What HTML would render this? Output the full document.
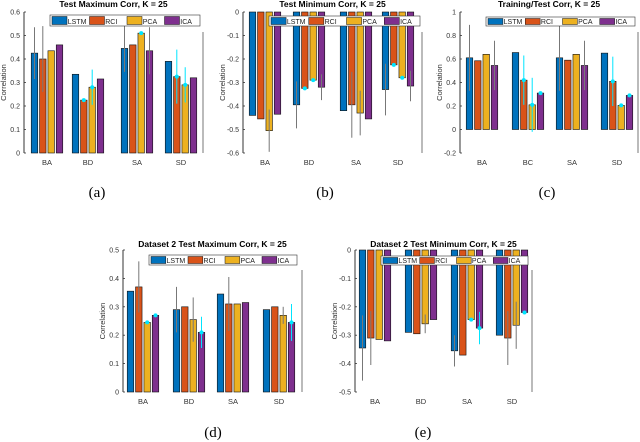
<!DOCTYPE html>
<html><head><meta charset="utf-8"><style>
body{margin:0;background:#fff;width:640px;height:442px;overflow:hidden;font-family:"Liberation Sans",sans-serif}
svg{position:absolute;left:0;top:0}
</style></head><body>
<svg id="fig" width="640" height="442" viewBox="0 0 640 442"></svg>
<script>
const categories = ["BA","BD","SA","SD"];
const categoriesC = ["BA","BC","SA","SD"];
const seriesNames = ["LSTM","RCI","PCA","ICA"];
// panel a  (errors indexed [category][series])
const aLSTM=[0.425,0.335,0.445,0.39], aRCI=[0.40,0.225,0.46,0.325], aPCA=[0.435,0.28,0.51,0.29], aICA=[0.46,0.315,0.435,0.32];
const aErr=[[0.11,0.14,0,0],[0,0.005,0.075,0],[0.1,0,0.005,0.1],[0,0.115,0.075,0]];
const aCyan=[[0,0,0,0],[0,1,1,0],[0,0,1,0],[0,1,1,0]];
const aTicks=[0,0.1,0.2,0.3,0.4,0.5,0.6];
// panel b
const bLSTM=[-0.44,-0.395,-0.42,-0.33], bRCI=[-0.455,-0.325,-0.395,-0.225], bPCA=[-0.505,-0.29,-0.43,-0.28], bICA=[-0.435,-0.32,-0.455,-0.315];
const bErr=[[0,0,0.09,0],[0.1,0.005,0.005,0.055],[0,0.14,0.095,0],[0.11,0.005,0.005,0.065]];
const bCyan=[[0,0,0,0],[0,1,1,0],[0,0,0,0],[0,1,1,0]];
const bTicks=[0,-0.1,-0.2,-0.3,-0.4,-0.5,-0.6];
// panel c
const cLSTM=[0.61,0.655,0.61,0.65], cRCI=[0.585,0.42,0.59,0.41], cPCA=[0.64,0.21,0.64,0.205], cICA=[0.545,0.31,0.545,0.29];
const cErr=[[0.28,0,0,0.21],[0,0.21,0.23,0.01],[0.28,0,0,0.21],[0,0.21,0.01,0.01]];
const cCyan=[[0,0,0,0],[0,1,1,1],[0,0,0,0],[0,1,1,1]];
const cTicks=[-0.2,0,0.2,0.4,0.6,0.8,1];
// panel d
const dLSTM=[0.355,0.29,0.345,0.29], dRCI=[0.37,0.30,0.31,0.30], dPCA=[0.245,0.255,0.31,0.27], dICA=[0.27,0.21,0.315,0.245];
const dErr=[[0,0.09,0.005,0.005],[0.08,0,0.078,0.055],[0,0.095,0,0],[0,0,0.03,0.065]];
const dCyan=[[0,0,1,1],[0,0,0,1],[0,0,0,0],[0,0,0,1]];
const dTicks=[0,0.1,0.2,0.3,0.4,0.5];
// panel e
const eLSTM=[-0.345,-0.29,-0.355,-0.30], eRCI=[-0.31,-0.295,-0.37,-0.31], ePCA=[-0.315,-0.26,-0.245,-0.265], eICA=[-0.32,-0.245,-0.275,-0.22];
const eErr=[[0.115,0.095,0,0],[0,0,0.033,0],[0.055,0,0.005,0.057],[0,0.095,0.083,0.005]];
const eCyan=[[0,0,0,0],[0,0,0,0],[0,0,1,1],[0,0,0,1]];
const eTicks=[0,-0.1,-0.2,-0.3,-0.4,-0.5];

const colors=["#0072BD","#D95319","#EDB120","#7E2F8E"];
const NS="http://www.w3.org/2000/svg";
const svg=document.getElementById("fig");
function mk(tag,attrs,parent){const e=document.createElementNS(NS,tag);for(const k in attrs)e.setAttribute(k,attrs[k]);(parent||svg).appendChild(e);return e;}

function panel(p){
  const g=mk("g",{});
  
  
  const y=v=>p.y0+(v-p.vmin)/(p.vmax-p.vmin)*(p.y1-p.y0);
  const zeroY=y(0);
  const t=mk("text",{x:(p.x0+p.x1)/2,y:p.ty,"font-size":"8.5","font-weight":"bold","text-anchor":"middle"},g);
  t.textContent=p.title;
  
  
  const ax=mk("line",{x1:p.x0,y1:Math.min(p.y0,p.y1),x2:p.x0,y2:Math.max(p.y0,p.y1),stroke:"#333","stroke-width":1},g);
  
  
  mk("line",{x1:p.x1,y1:Math.min(p.y0,p.y1)+20,x2:p.x1,y2:Math.max(p.y0,p.y1),stroke:"#555","stroke-width":0.8},g);
  p.ticks.forEach(v=>{
    const ty=y(v);
    mk("line",{x1:p.x0,y1:ty,x2:p.x0+2,y2:ty,stroke:"#333","stroke-width":0.8},g);
    const tl=mk("text",{x:p.x0-4,y:ty+2.5,"font-size":"7","text-anchor":"end",fill:"#333"},g);
    tl.textContent=String(v);
    
    
  });
  const yl=mk("text",{x:0,y:0,"font-size":"7.5","text-anchor":"middle",fill:"#333",transform:`translate(${p.x0-18},${(p.y0+p.y1)/2}) rotate(-90)`},g);
  yl.textContent="Correlation";
  
  
  const offs=[-12.5,-4.2,4.2,12.5], bw=6.5;
  p.cats.forEach((c,i)=>{
    const cx=p.cx[i];
    const xl=mk("text",{x:cx,y:Math.max(p.y0,p.y1)+12,"font-size":"7.5","text-anchor":"middle",fill:"#333"},g);
    xl.textContent=c;
    
    
    p.series.forEach((s,j)=>{
      const v=s[i], vy=y(v);
      const r=mk("rect",{x:cx+offs[j]-bw/2,y:Math.min(vy,zeroY),width:bw,height:Math.abs(vy-zeroY),fill:colors[j],stroke:"#111","stroke-width":0.6},g);
      
      
      const e=p.err[i][j];
      if(e>0){
        const cyan=p.cyan[i][j]===1;
        const col=cyan?"#00E5FF":"#777";
        mk("line",{x1:cx+offs[j],y1:y(v-e),x2:cx+offs[j],y2:y(v+e),stroke:col,"stroke-width":1},g);
        if(cyan) mk("circle",{cx:cx+offs[j],cy:vy,r:2,fill:col},g);
      }
    });
  });
  const L=p.leg;
  const lb=mk("rect",{x:L[0],y:L[1],width:L[2]-L[0],height:L[3]-L[1],fill:"#fff",stroke:"#333","stroke-width":0.6},g);
  
  
  const w=(L[2]-L[0])/4;
  seriesNames.forEach((n,j)=>{
    const lx=L[0]+j*w+2;
    const sw=mk("rect",{x:lx,y:L[1]+1.5,width:w*0.4,height:L[3]-L[1]-3,fill:colors[j],stroke:"#111","stroke-width":0.5},g);
    
    
    const lt=mk("text",{x:lx+w*0.42,y:L[3]-2,"font-size":"7",fill:"#222"},g);
    lt.textContent=n;
    
    
  });
  const cap=mk("text",{x:p.cap[0],y:p.cap[1],"font-size":"15","font-family":"Liberation Serif, serif","text-anchor":"middle"},g);
  cap.textContent=p.label;
  
  
}

panel({name:"panel-a",title:"Test Maximum Corr, K = 25",x0:24,x1:203,y0:153,y1:12,vmin:0,vmax:0.6,ticks:aTicks,cats:categories,cx:[47,88,137,181],series:[aLSTM,aRCI,aPCA,aICA],err:aErr,cyan:aCyan,leg:[50,15,200,26],ty:7,cap:[97,197],label:"(a)"});
panel({name:"panel-b",title:"Test Minimum Corr, K = 25",x0:243,x1:422,y0:12,y1:153,vmin:0,vmax:-0.6,ticks:bTicks,cats:categories,cx:[265,309,356,398],series:[bLSTM,bRCI,bPCA,bICA],err:bErr,cyan:bCyan,leg:[269,16,420,26],ty:7,cap:[325,197],label:"(b)"});
panel({name:"panel-c",title:"Training/Test Corr, K = 25",x0:460,x1:638,y0:153,y1:12,vmin:-0.2,vmax:1,ticks:cTicks,cats:categoriesC,cx:[482,528,572,617],series:[cLSTM,cRCI,cPCA,cICA],err:cErr,cyan:cCyan,leg:[486,17,635,26],ty:7,cap:[547,197],label:"(c)"});
panel({name:"panel-d",title:"Dataset 2 Test Maximum Corr, K = 25",x0:123,x1:302,y0:392,y1:250,vmin:0,vmax:0.5,ticks:dTicks,cats:categories,cx:[143,189,233,279],series:[dLSTM,dRCI,dPCA,dICA],err:dErr,cyan:dCyan,leg:[149,255,297,265],ty:247,cap:[213,437],label:"(d)"});
panel({name:"panel-e",title:"Dataset 2 Test Minimum Corr, K = 25",x0:355,x1:532,y0:250,y1:392,vmin:0,vmax:-0.5,ticks:eTicks,cats:categories,cx:[375,421,467,512],series:[eLSTM,eRCI,ePCA,eICA],err:eErr,cyan:eCyan,leg:[381,256,528,265],ty:247,cap:[423,437],label:"(e)"});
</script>
</body></html>
